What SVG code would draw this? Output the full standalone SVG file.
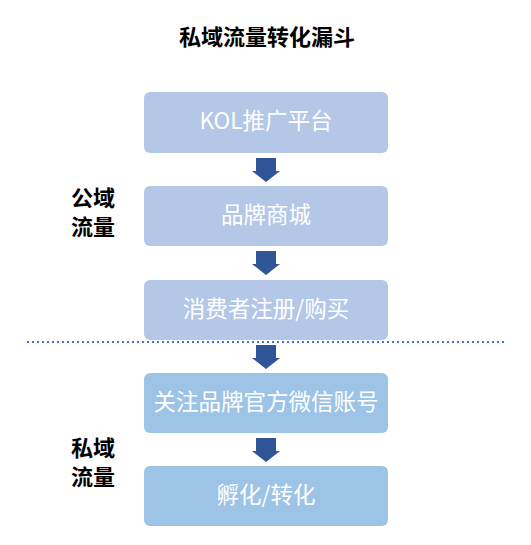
<svg xmlns="http://www.w3.org/2000/svg" width="531" height="545" viewBox="0 0 531 545">
<style>
.t{font-family:"Noto Sans CJK SC","Liberation Sans",sans-serif;}
.title{font-size:22px;font-weight:bold;fill:#000;text-anchor:middle;}
.side{font-size:22px;font-weight:bold;fill:#000;}
.lbl{font-size:22.5px;fill:#fff;text-anchor:middle;dominant-baseline:central;}
.b1{fill:#B4C7E7;}
.b2{fill:#9DC3E6;}
.arr{fill:#2F5597;}
</style>
<rect width="531" height="545" fill="#fff"/>
<text class="t title" x="267" y="45">私域流量转化漏斗</text>
<g id="side-public"><text class="t side" x="71" y="206">公域</text><text class="t side" x="71" y="235">流量</text></g>
<g id="side-private"><text class="t side" x="71" y="456">私域</text><text class="t side" x="71" y="485">流量</text></g>
<g id="n1"><rect class="b1" x="144" y="92" width="244" height="61" rx="6"/><text class="t lbl" x="266" y="119">KOL推广平台</text></g>
<g id="n2"><rect class="b1" x="144" y="186" width="244" height="60" rx="6"/><text class="t lbl" x="266" y="213">品牌商城</text></g>
<g id="n3"><rect class="b1" x="144" y="280" width="244" height="60" rx="6"/><text class="t lbl" x="266" y="307">消费者注册/购买</text></g>
<g id="n4"><rect class="b2" x="144" y="373" width="244" height="60" rx="6"/><text class="t lbl" x="266" y="400">关注品牌官方微信账号</text></g>
<g id="n5"><rect class="b2" x="144" y="466" width="244" height="60" rx="6"/><text class="t lbl" x="266" y="493">孵化/转化</text></g>
<line x1="27" y1="342" x2="507" y2="342" stroke="#4472C4" stroke-width="2" stroke-dasharray="2 3"/>
<g id="connectors">
<polygon class="arr" points="256,158 276,158 276,171 280,171 266,182 252,171 256,171"/>
<polygon class="arr" points="256,251 276,251 276,264 280,264 266,275 252,264 256,264"/>
<polygon class="arr" points="256,345 276,345 276,358 280,358 266,369 252,358 256,358"/>
<polygon class="arr" points="256,438 276,438 276,451 280,451 266,462 252,451 256,451"/>
</g>
</svg>
